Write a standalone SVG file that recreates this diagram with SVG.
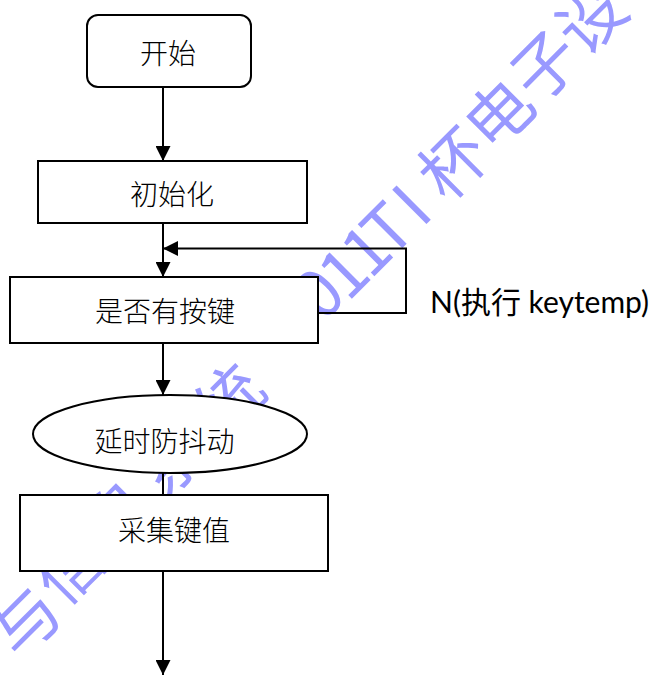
<svg xmlns="http://www.w3.org/2000/svg" width="654" height="675" viewBox="0 0 654 675">
<style>
.node{fill:#fff;stroke:#000;stroke-width:2}
.lbl{font-family:"Noto Sans CJK SC","Noto Sans CJK JP",sans-serif;font-weight:300;font-size:28px;fill:#000;text-anchor:middle;dominant-baseline:central}
.wire{fill:none;stroke:#000;stroke-width:2}
.wm{font-family:"Noto Sans CJK SC","Noto Sans CJK JP",sans-serif;font-size:66px;fill:#9999ff;text-anchor:middle;dominant-baseline:central}
.note{font-family:Lato,"Noto Sans CJK SC",sans-serif;font-size:30px;fill:#000}
</style>
<defs>
<marker id="arr" viewBox="0 0 15 15" refX="15" refY="7.5" markerWidth="15" markerHeight="15" markerUnits="userSpaceOnUse" orient="auto">
<path d="M0,0 L15,7.5 L0,15 z" fill="#000"/>
</marker>
</defs>
<rect width="654" height="675" fill="#fff"/>
<g id="watermark">
<text class="wm" transform="rotate(-45)" x="-421 -353 -280 -205 -120 -22 18 50 82 112 146 205 272 339 405" y="453 446 444 442 440 420 428 431 431 431 431 431 429 427 426">与信息系统2011TI杯电子设</text>
</g>
<g id="connectors">
<path class="wire" d="M163,87.5 V161" marker-end="url(#arr)"/>
<path class="wire" d="M163,223 V277" marker-end="url(#arr)"/>
<path class="wire" d="M318,313 H406 V248.5 H163" marker-end="url(#arr)"/>
<path class="wire" d="M163,343 V395" marker-end="url(#arr)"/>
<path class="wire" d="M163,473 V509" marker-end="url(#arr)"/>
<path class="wire" d="M163,571 V675" marker-end="url(#arr)"/>
</g>
<g id="start">
<rect class="node" x="87" y="15" width="164" height="72" rx="11"/>
<text class="lbl" x="168" y="51.5">开始</text>
</g>
<g id="init">
<rect class="node" x="38" y="161" width="269" height="62"/>
<text class="lbl" x="172" y="193">初始化</text>
</g>
<g id="check">
<rect class="node" x="10" y="277" width="308" height="66"/>
<text class="lbl" x="165" y="309.5">是否有按键</text>
</g>
<g id="delay">
<ellipse class="node" cx="170" cy="434" rx="137" ry="39"/>
<text class="lbl" x="164.5" y="440">延时防抖动</text>
</g>
<g id="read">
<rect class="node" x="20" y="495" width="308" height="76"/>
<text class="lbl" x="174" y="528.5">采集键值</text>
</g>
<g id="loop-label">
<text class="note" x="430" y="313">N(执行 keytemp)</text>
</g>
</svg>
